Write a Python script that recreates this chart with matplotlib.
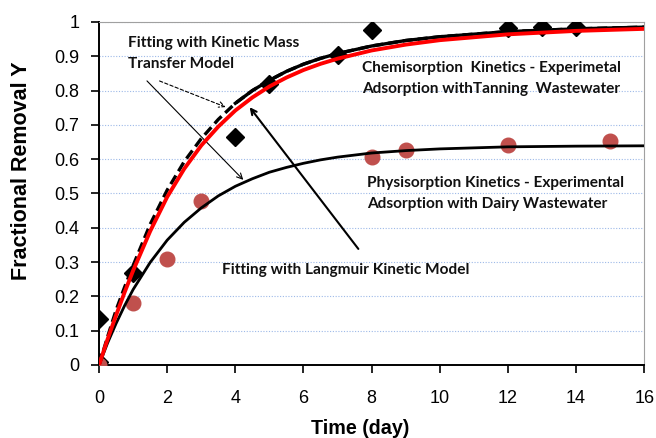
''' Fractional removal kinetics '''

import numpy as np
import matplotlib.pyplot as plt

# experimental points
t_chem = [0, 0, 1, 4, 5, 7, 8, 12, 13, 14]
y_chem = [0.01, 0.133, 0.268, 0.665, 0.82, 0.905, 0.977, 0.983, 0.986, 0.986]

t_phys = [0, 1, 2, 3, 8, 9, 12, 15]
y_phys = [0.0, 0.18, 0.31, 0.477, 0.606, 0.628, 0.641, 0.653]

# fitted curves
t_fit = [0, 0.25, 0.5, 0.75, 1, 1.5, 2, 2.5, 3, 3.5, 4, 4.5, 5, 5.5, 6, 6.5, 7, 8, 9, 10, 12, 14, 16]
y_chem_lang = [0, 0.075, 0.145, 0.212, 0.275, 0.39, 0.49, 0.572, 0.64, 0.695, 0.742, 0.78,
               0.812, 0.838, 0.86, 0.878, 0.893, 0.917, 0.934, 0.947, 0.964, 0.974, 0.98]
y_chem_mt = [0, 0.082, 0.16, 0.227, 0.29, 0.41, 0.51, 0.593, 0.66, 0.716, 0.763, 0.80,
             0.83, 0.856, 0.877, 0.894, 0.908, 0.93, 0.946, 0.957, 0.972, 0.98, 0.985]
y_phys_lang = [0, 0.064, 0.121, 0.173, 0.22, 0.299, 0.364, 0.416, 0.458, 0.493, 0.521, 0.543,
               0.562, 0.576, 0.588, 0.598, 0.606, 0.618, 0.625, 0.630, 0.636, 0.638, 0.639]

fig = plt.figure(figsize=(6.56, 4.38), dpi=100)
ax = fig.add_axes([0.151, 0.1667, 0.831, 0.7831])

ax.grid(axis='y', color='#9db9e8', linestyle=(0, (1, 1.5)), linewidth=0.8)
ax.set_axisbelow(True)

ax.plot(t_chem, y_chem, 'D', color='black', ms=9, zorder=3)
ax.plot(t_phys, y_phys, 'o', color='#c0504d', ms=10.5, zorder=4)

t_fit = np.array(t_fit)
y_chem_mt = np.array(y_chem_mt)
ax.plot(t_fit, y_phys_lang, color='black', lw=2, zorder=5)
ax.plot(t_fit, y_chem_mt, color='black', lw=2.4, ls=(0, (3, 1.5)), zorder=5)
ax.plot(t_fit[t_fit >= 4], y_chem_mt[t_fit >= 4], color='black', lw=2.4, zorder=5)
ax.plot(t_fit, y_chem_lang, color='#ff0000', lw=2.8, zorder=6)

#text boxes
tfont = dict(family='Lato', fontweight='bold', fontsize=11.1, color='#111111',
             va='top', ha='left', linespacing=1.6)
ax.text(0.85, 0.958, 'Fitting with Kinetic Mass\nTransfer Model', **tfont)
ax.text(7.72, 0.886, 'Chemisorption  Kinetics - Experimetal\nAdsorption withTanning  Wastewater', **tfont)
ax.text(7.87, 0.55, 'Physisorption Kinetics - Experimental\nAdsorption with Dairy Wastewater', **tfont)
ax.text(3.61, 0.296, 'Fitting with Langmuir Kinetic Model', **tfont)

#arrows
ax.annotate('', xy=(3.79, 0.749), xytext=(1.70, 0.831),
            arrowprops=dict(arrowstyle='->', ls=(0, (3, 2)), lw=0.8, color='black'))
ax.annotate('', xy=(4.29, 0.534), xytext=(1.35, 0.834),
            arrowprops=dict(arrowstyle='->', lw=0.8, color='black'))
ax.annotate('', xy=(4.37, 0.758), xytext=(7.66, 0.332),
            arrowprops=dict(arrowstyle='->', lw=1.5, color='black'))

ax.set_xlim(0, 16)
ax.set_ylim(0, 1)
ax.set_xticks(np.arange(0, 17, 2))
ax.set_yticks(np.arange(0, 1.01, 0.1))
ax.set_yticklabels(['0', '0.1', '0.2', '0.3', '0.4', '0.5', '0.6', '0.7', '0.8', '0.9', '1'])
ax.tick_params(direction='out', length=6, width=1.2, labelsize=13)
ax.tick_params(axis='x', pad=12)
ax.tick_params(axis='y', pad=8)

for s in ['left', 'bottom']:
    ax.spines[s].set_linewidth(1.4)
for s in ['top', 'right']:
    ax.spines[s].set_color('#a0a0a0')
    ax.spines[s].set_linewidth(0.8)

#Naming
ax.set_xlabel('Time (day)', fontsize=14.2, fontweight='bold', family='Liberation Sans', va='center')
ax.set_ylabel('Fractional Removal Y', fontsize=15.5, fontweight='bold', family='Liberation Sans', va='center')
ax.xaxis.set_label_coords(0.479, -0.184)
ax.yaxis.set_label_coords(-0.143, 0.566)
for lab in ax.get_xticklabels() + ax.get_yticklabels():
    lab.set_family('Liberation Sans')

fig.savefig('out.png', dpi=100)
